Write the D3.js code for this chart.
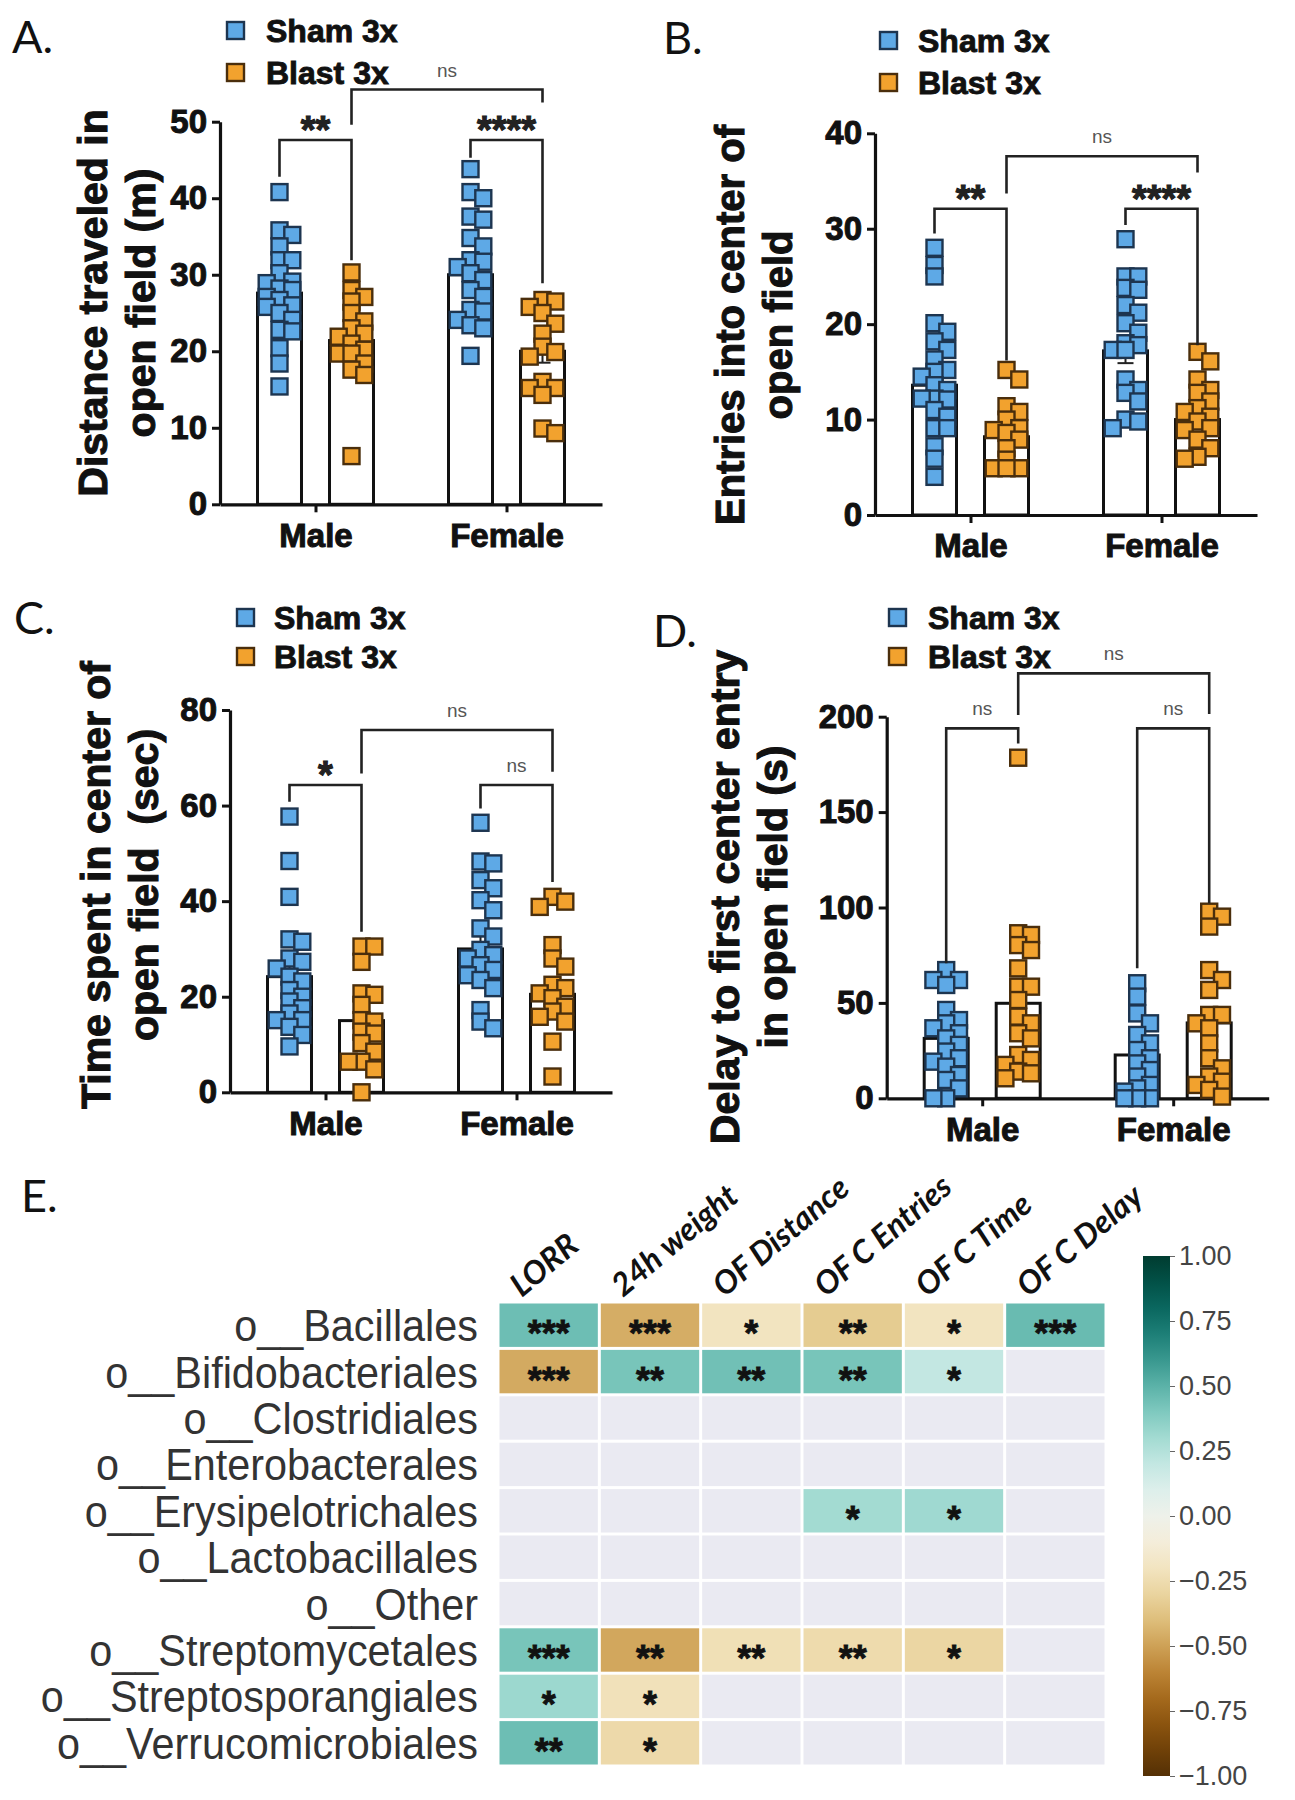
<!DOCTYPE html>
<html><head><meta charset="utf-8">
<script src="https://cdn.jsdelivr.net/npm/d3@7"></script>
<style>body{margin:0;background:#fff} svg{display:block}</style>
</head><body>
<svg id="fig" width="1295" height="1800"></svg>
<script>
// ---------------- DATA ----------------
const sexes = ["Male", "Female"];
const groups = ["Sham 3x", "Blast 3x"];

// A. Distance traveled (m)
const distShamMale   = [40.8,35.8,35.2,33.7,31.9,31.9,30.2,29.1,28.9,28.2,28.0,27.1,26.7,26.0,25.8,25.0,24.1,22.8,22.6,20.4,18.4,15.4];
const distBlastMale  = [30.3,28.0,27.1,26.5,25.0,23.9,23.0,22.3,21.9,21.0,20.2,19.7,19.7,18.4,17.6,16.9,6.3];
const distShamFemale = [43.8,40.8,40.0,37.6,37.2,34.8,33.7,31.9,31.7,31.0,30.2,29.3,28.0,27.1,25.4,25.2,24.1,23.4,23.0,19.4];
const distBlastFemale= [26.7,26.5,25.8,25.0,23.6,22.3,20.6,19.9,19.3,16.0,15.2,15.2,14.3,9.9,9.3];
const distShamMeans  = [27.6, 30.0];
const distBlastMeans = [21.4, 20.0];
const distTicks = [0,10,20,30,40,50];

// B. Entries into center
const entShamMale   = [28.0,26.2,25.0,20.1,19.2,18.2,17.3,16.3,15.2,15.0,14.5,13.6,13.1,12.2,12.2,12.1,11.0,10.3,9.1,9.1,7.2,5.9,4.0];
const entBlastMale  = [15.2,14.2,11.4,10.8,10.0,9.1,8.9,8.6,7.9,7.0,5.8,4.9,4.9,4.9];
const entShamFemale = [28.9,25.0,25.0,23.8,23.6,22.0,21.2,20.1,19.1,18.0,17.8,17.3,17.3,14.2,13.1,12.8,11.9,10.0,9.8,9.1];
const entBlastFemale= [17.1,16.1,14.2,13.1,12.8,11.9,11.2,10.8,10.3,9.8,9.1,8.9,7.9,7.0,6.1,5.9];
const entShamMeans  = [13.6, 17.2];
const entBlastMeans = [8.2, 10.0];
const entTicks = [0,10,20,30,40];

// C. Time spent in center (sec)
const timeShamMale   = [57.7,48.4,40.9,32.0,31.5,28.0,27.3,25.9,24.2,23.2,21.4,20.0,19.0,17.6,16.5,15.1,15.1,13.7,12.0,9.6];
const timeBlastMale  = [30.5,30.5,27.3,20.7,20.4,18.3,15.1,14.8,12.7,12.3,10.3,8.5,6.4,6.4,4.8,0.0];
const timeShamFemale = [56.4,48.3,47.9,44.4,42.7,40.2,38.1,34.3,32.6,29.8,28.7,28.0,26.6,25.6,24.5,23.5,21.8,17.2,14.8,13.4];
const timeBlastFemale= [40.9,39.9,38.8,30.8,28.0,26.3,22.5,21.8,20.7,19.7,17.9,16.9,15.8,14.8,10.6,3.3];
const timeShamMeans  = [24.2, 30.0];
const timeBlastMeans = [15.0, 20.5];
const timeTicks = [0,20,40,60,80];

// D. Delay to first center entry (s)
const delayShamMale   = [67.2,62.0,62.0,59.4,46.3,41.0,39.3,36.7,34.1,31.4,28.0,24.5,21.0,19.2,16.6,12.2,9.6,5.2,0,0];
const delayBlastMale  = [178.5,86.5,85.6,80.3,77.7,68.1,58.5,58.5,51.5,42.8,39.3,34.1,31.4,22.7,20.1,17.5,14.0,13.1,10.5];
const delayShamFemale = [60.3,53.3,44.5,39.3,33.2,28.8,25.3,21.0,18.3,14.8,11.4,7.0,5.2,3.5,0,0,0];
const delayBlastFemale= [97.8,95.2,90.0,67.2,62.0,56.8,43.7,43.7,39.3,36.7,28.8,21.0,15.7,11.4,8.7,7.0,4.4,0.9];
const delayShamMeans  = [31.4, 22.7];
const delayBlastMeans = [49.8, 39.5];
const delayTicks = [0,50,100,150,200];

// significance brackets (values in data units: bar top, left leg end, right leg end)
const distBrackets = [
  {a:["Male","Sham 3x"], b:["Male","Blast 3x"], top:47.6, l:42.8, r:31.9, label:"**"},
  {a:["Female","Sham 3x"], b:["Female","Blast 3x"], top:47.6, l:45.3, r:28.9, label:"****"},
  {a:["Male","Blast 3x"], b:["Female","Blast 3x"], top:54.2, l:49.6, r:52.5, label:"ns"}];
const entBrackets = [
  {a:["Male","Sham 3x"], b:["Male","Blast 3x"], top:32.1, l:29.5, r:16.2, label:"**"},
  {a:["Female","Sham 3x"], b:["Female","Blast 3x"], top:32.1, l:30.4, r:17.8, label:"****"},
  {a:["Male","Blast 3x"], b:["Female","Blast 3x"], top:37.6, l:33.7, r:35.9, label:"ns"}];
const timeBrackets = [
  {a:["Male","Sham 3x"], b:["Male","Blast 3x"], top:64.3, l:60.8, r:33.6, label:"*"},
  {a:["Female","Sham 3x"], b:["Female","Blast 3x"], top:64.3, l:59.4, r:44.0, label:"ns"},
  {a:["Male","Blast 3x"], b:["Female","Blast 3x"], top:75.8, l:66.7, r:67.1, label:"ns"}];
const delayBrackets = [
  {a:["Male","Sham 3x"], b:["Male","Blast 3x"], top:193.9, l:70.8, r:186.0, label:"ns"},
  {a:["Female","Sham 3x"], b:["Female","Blast 3x"], top:193.9, l:68.1, r:102.2, label:"ns"},
  {a:["Male","Blast 3x"], b:["Female","Blast 3x"], top:222.7, l:200.9, r:201.4, label:"ns"}];

// E. correlation heatmap
const corrRows = ["o__Bacillales","o__Bifidobacteriales","o__Clostridiales","o__Enterobacterales","o__Erysipelotrichales","o__Lactobacillales","o__Other","o__Streptomycetales","o__Streptosporangiales","o__Verrucomicrobiales"];
const corrCols = ["LORR","24h weight","OF Distance","OF C Entries","OF C Time","OF C Delay"];
const corrValues = [
  [0.45,-0.46,-0.20,-0.34,-0.20,0.46],
  [-0.47,0.42,0.44,0.42,0.20,null],
  [null,null,null,null,null,null],
  [null,null,null,null,null,null],
  [null,null,null,0.30,0.31,null],
  [null,null,null,null,null,null],
  [null,null,null,null,null,null],
  [0.42,-0.48,-0.23,-0.26,-0.29,null],
  [0.32,-0.22,null,null,null,null],
  [0.45,-0.27,null,null,null,null]];
const corrStars = [
  ["***","***","*","**","*","***"],
  ["***","**","**","**","*",""],
  ["","","","","",""],
  ["","","","","",""],
  ["","","","*","*",""],
  ["","","","","",""],
  ["","","","","",""],
  ["***","**","**","**","*",""],
  ["*","*","","","",""],
  ["**","*","","","",""]];
const colorbarTicks = [-1,-0.75,-0.5,-0.25,0,0.25,0.5,0.75,1];

// ---------------- DRAWING ----------------
const SANS = "Arial, 'Liberation Sans', Helvetica, sans-serif";
const svg = d3.select("#fig");
svg.append("rect").attr("width",1295).attr("height",1800).attr("fill","#fff");

const fillCol = {"Sham 3x":"#5ea9e6","Blast 3x":"#f2a22e"};
const edgeCol = {"Sham 3x":"#1d3550","Blast 3x":"#4a2e0c"};

function boldify(sel, w){ return sel.attr("stroke","#111").attr("stroke-width",w).attr("paint-order","stroke"); }

function swarm(vals, y, size, maxOff){
  const order = vals.map((v,i)=>({v,i})).sort((a,b)=>b.v-a.v);
  const step = size*0.4, offs=[0];
  for(let k=1;k*step<=maxOff+0.01;k++){offs.push(k*step,-k*step);}
  const placed=[]; const thr=size*0.7;
  for(const p of order){
    const py=y(p.v); let best=0,bestC=Infinity;
    for(const o of offs){
      let c=0;
      for(const q of placed){const dx=Math.abs(q.x-o),dy=Math.abs(q.y-py); if(dx<thr&&dy<thr)c+=(thr-dx)*(thr-dy);}
      if(c<bestC-1e-6){bestC=c;best=o;}
      if(c===0)break;
    }
    placed.push({x:best,y:py});
  }
  return placed;
}

function drawPanel(cfg){
  const g = svg.append("g");
  const y = d3.scaleLinear().domain([0,cfg.max]).range([cfg.y0,cfg.yTop]);
  const x0 = d3.scalePoint().domain(sexes).range([cfg.ax,cfg.ax+382]).padding(0.5);
  const x1 = d3.scaleBand().domain(groups).range([-58,58]).paddingInner(0.389);
  const bw = x1.bandwidth();
  const cx = (s,gr)=>x0(s)+x1(gr)+bw/2;

  // axes
  const ya = g.append("g").attr("transform",`translate(${cfg.ax},0)`)
    .call(d3.axisLeft(y).tickValues(cfg.ticks).tickSize(8).tickSizeOuter(0).tickPadding(5));
  const xa = g.append("g").attr("transform",`translate(0,${cfg.y0})`)
    .call(d3.axisBottom(x0).tickSize(8).tickSizeOuter(0).tickPadding(11));
  [ya,xa].forEach(a=>{
    a.select(".domain").attr("stroke","#111").attr("stroke-width",3.2);
    a.selectAll(".tick line").attr("stroke","#111").attr("stroke-width",3);
    boldify(a.selectAll("text").attr("font-family",SANS).attr("font-weight","bold").attr("font-size",33).attr("fill","#111"),1);
  });

  // bars
  sexes.forEach((s,i)=>groups.forEach(gr=>{
    const m = cfg.means[gr][i];
    g.append("rect").attr("x",x0(s)+x1(gr)).attr("width",bw)
      .attr("y",y(m)).attr("height",cfg.y0-y(m))
      .attr("fill","#fff").attr("stroke","#111").attr("stroke-width",3);
  }));

  // error bars (mean ± SEM), drawn beneath the points
  sexes.forEach((s,i)=>groups.forEach(gr=>{
    const vals = cfg.points[gr][i];
    const m = cfg.means[gr][i];
    const sem = d3.deviation(vals)/Math.sqrt(vals.length);
    const c = cx(s,gr);
    const eb = g.append("g").attr("stroke","#222").attr("stroke-width",2);
    eb.append("line").attr("x1",c).attr("x2",c).attr("y1",y(m-sem)).attr("y2",y(m+sem));
    eb.append("line").attr("x1",c-8).attr("x2",c+8).attr("y1",y(m+sem)).attr("y2",y(m+sem));
    eb.append("line").attr("x1",c-8).attr("x2",c+8).attr("y1",y(m-sem)).attr("y2",y(m-sem));
  }));

  // points
  sexes.forEach((s,i)=>groups.forEach(gr=>{
    const vals = cfg.points[gr][i];
    const pos = swarm(vals,y,16,bw/2-4);
    const c = cx(s,gr);
    g.selectAll(null).data(pos).enter().append("rect")
      .attr("x",d=>c+d.x-8).attr("y",d=>d.y-8).attr("width",16).attr("height",16)
      .attr("fill",fillCol[gr]).attr("stroke",edgeCol[gr]).attr("stroke-width",2.4);
  }));

  // brackets
  cfg.brackets.forEach(b=>{
    const xa1 = cx(b.a[0],b.a[1]), xb1 = cx(b.b[0],b.b[1]);
    g.append("path").attr("d",`M${xa1},${y(b.l)}V${y(b.top)}H${xb1}V${y(b.r)}`)
      .attr("fill","none").attr("stroke","#222").attr("stroke-width",2.6);
    const mx=(xa1+xb1)/2, cyy=y(b.top)-18;
    if(b.label==="ns"){
      g.append("text").attr("x",mx).attr("y",cyy+5).attr("text-anchor","middle")
        .attr("font-family",SANS).attr("font-size",19).attr("fill","#555").text("ns");
    } else {
      boldify(g.append("text").attr("x",mx).attr("y",cyy+21).attr("text-anchor","middle")
        .attr("font-family",SANS).attr("font-weight","bold").attr("font-size",38).attr("fill","#222").text(b.label),1);
    }
  });

  // y label
  cfg.ylab.forEach((t,k)=>{
    boldify(g.append("text").attr("transform",`translate(${cfg.ylabX[k]},${cfg.ylabCY}) rotate(-90)`)
      .attr("text-anchor","middle").attr("font-family",SANS).attr("font-weight","bold")
      .attr("font-size",cfg.ylabFS).attr("fill","#111").attr("xml:space","preserve").text(t),1.1);
  });

  // legend
  groups.forEach((gr,k)=>{
    g.append("rect").attr("x",cfg.leg.sx).attr("y",cfg.leg.base[k]-20).attr("width",17).attr("height",17)
      .attr("fill",fillCol[gr]).attr("stroke",edgeCol[gr]).attr("stroke-width",2.4);
    boldify(g.append("text").attr("x",cfg.leg.tx).attr("y",cfg.leg.base[k]).attr("font-family",SANS)
      .attr("font-weight","bold").attr("font-size",32).attr("fill","#111").text(gr),0.9);
  });

  // panel letter
  g.append("text").attr("x",cfg.letterPos[0]).attr("y",cfg.letterPos[1])
    .attr("font-family","Lato, 'Open Sans', sans-serif").attr("font-size",45).attr("fill","#111").text(cfg.letter);
}

const mk = (a,b)=>({"Sham 3x":a,"Blast 3x":b});
drawPanel({letter:"A.", letterPos:[12,53], ax:220, y0:504.3, yTop:121.7, max:50, ticks:distTicks,
  means:mk(distShamMeans,distBlastMeans),
  points:mk([distShamMale,distShamFemale],[distBlastMale,distBlastFemale]),
  brackets:distBrackets,
  ylab:["Distance traveled in","open field (m)"], ylabX:[107,155], ylabCY:303, ylabFS:41,
  leg:{sx:227, tx:266, base:[42,84]}});
drawPanel({letter:"B.", letterPos:[663,54], ax:875, y0:515, yTop:133.3, max:40, ticks:entTicks,
  means:mk(entShamMeans,entBlastMeans),
  points:mk([entShamMale,entShamFemale],[entBlastMale,entBlastFemale]),
  brackets:entBrackets,
  ylab:["Entries into center of","open field"], ylabX:[744,792], ylabCY:325, ylabFS:40,
  leg:{sx:880, tx:918, base:[52,94]}});
drawPanel({letter:"C.", letterPos:[14,634], ax:230, y0:1092.3, yTop:710, max:80, ticks:timeTicks,
  means:mk(timeShamMeans,timeBlastMeans),
  points:mk([timeShamMale,timeShamFemale],[timeBlastMale,timeBlastFemale]),
  brackets:timeBrackets,
  ylab:["Time spent in center of","open field  (sec)"], ylabX:[110,158], ylabCY:885, ylabFS:41,
  leg:{sx:237, tx:274, base:[629,668]}});
drawPanel({letter:"D.", letterPos:[653,647], ax:886.7, y0:1098.3, yTop:716.7, max:200, ticks:delayTicks,
  means:mk(delayShamMeans,delayBlastMeans),
  points:mk([delayShamMale,delayShamFemale],[delayBlastMale,delayBlastFemale]),
  brackets:delayBrackets,
  ylab:["Delay to first center entry","in open field (s)"], ylabX:[739,787], ylabCY:897, ylabFS:41,
  leg:{sx:889, tx:928, base:[629,668]}});

// ---- Panel E: heatmap ----
const E = svg.append("g");
E.append("text").attr("x",21).attr("y",1212).attr("font-family","Lato, 'Open Sans', sans-serif")
  .attr("font-size",45).attr("fill","#111").text("E.");
const hx = d3.scaleBand().domain(corrCols).range([498,1106]);
const hy = d3.scaleBand().domain(corrRows).range([1302,1766]);
const col = d3.scaleSequential(d3.interpolateBrBG).domain([-1,1]);
corrRows.forEach((r,i)=>corrCols.forEach((c,j)=>{
  const v = corrValues[i][j];
  E.append("rect").attr("x",hx(c)+1.5).attr("y",hy(r)+1.5)
    .attr("width",hx.bandwidth()-3).attr("height",hy.bandwidth()-3)
    .attr("fill", v===null ? "#eaeaf2" : col(v));
  if(corrStars[i][j]) boldify(E.append("text").attr("x",hx(c)+hx.bandwidth()/2)
    .attr("y",hy(r)+hy.bandwidth()/2+21).attr("text-anchor","middle")
    .attr("font-family",SANS).attr("font-weight","bold").attr("font-size",36).attr("fill","#111")
    .text(corrStars[i][j]),0.8);
}));
corrRows.forEach(r=>{
  E.append("text").attr("transform",`translate(478,${hy(r)+hy.bandwidth()/2+16}) scale(0.92,1)`)
    .attr("text-anchor","end")
    .attr("font-family",SANS).attr("font-size",45).attr("fill","#333").text(r);
});
corrCols.forEach(c=>{
  E.append("text").attr("transform",`translate(${hx(c)+hx.bandwidth()/2-27},1298) rotate(-40)`)
    .attr("font-family","Lato, 'Open Sans', sans-serif").attr("font-weight","bold").attr("font-style","italic")
    .attr("font-size",32).attr("fill","#111").text(c);
});
// colorbar
const cbY = d3.scaleLinear().domain([-1,1]).range([1776,1256]);
const grad = svg.append("defs").append("linearGradient").attr("id","cbgrad")
  .attr("x1",0).attr("y1",1).attr("x2",0).attr("y2",0);
d3.range(0,1.0001,0.05).forEach(t=>grad.append("stop").attr("offset",t).attr("stop-color",col(-1+2*t)));
E.append("rect").attr("x",1143).attr("y",cbY(1)).attr("width",27).attr("height",cbY(-1)-cbY(1)).attr("fill","url(#cbgrad)");
const cba = E.append("g").attr("transform","translate(1170,0)")
  .call(d3.axisRight(cbY).tickValues(colorbarTicks).tickFormat(d3.format(".2f")).tickSize(5).tickPadding(4));
cba.select(".domain").remove();
cba.selectAll(".tick line").attr("stroke","#666");
cba.selectAll("text").attr("font-family",SANS).attr("font-size",27).attr("fill","#444");
</script>
</body></html>
